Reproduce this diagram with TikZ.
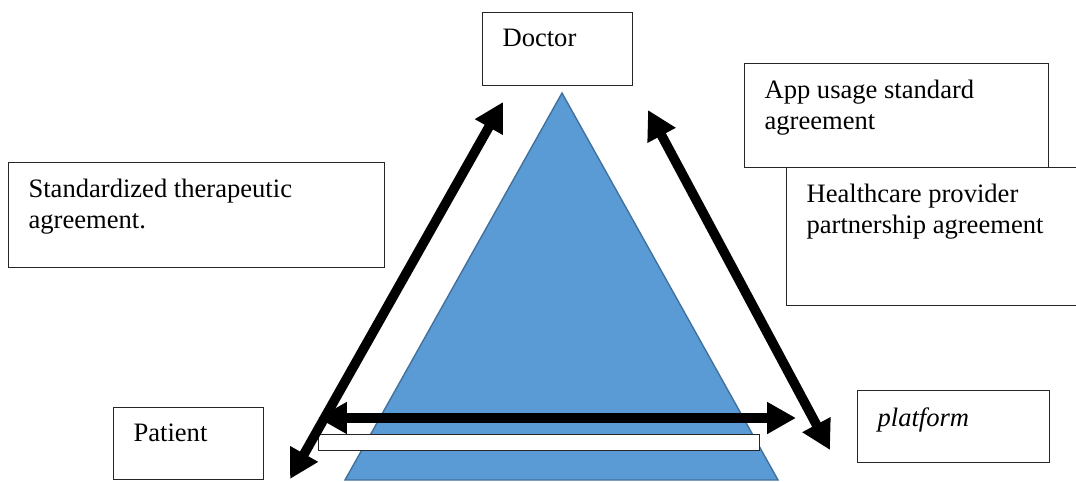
\documentclass[tikz,border=0pt]{standalone}
\usepackage{fontspec}
\setmainfont{Liberation Serif}
\usetikzlibrary{arrows.meta,positioning}
\definecolor{triblue}{HTML}{5B9BD5}
\definecolor{triedge}{HTML}{41719C}
\newcommand{\boxtxt}[3]{\parbox[c][#2][t]{#1}{\vspace*{0.12cm}\raggedright #3}}

\begin{document}
\begin{tikzpicture}[
    x=0.025cm, y=-0.025cm,
    textbox/.style={
        draw=black!85,
        fill=white,
        line width=0.8pt,
        anchor=north west,
        inner xsep=0.5cm,
        inner ysep=0.3cm,
        font=\fontsize{18.9pt}{22pt}\selectfont,
    },
    bigarrow/.style={
        {Triangle[length=0.72cm,width=0.75cm]}-{Triangle[length=0.72cm,width=0.75cm]},
        line width=0.24cm,
        color=black,
    },
]
\useasboundingbox (0,0) rectangle (1076,481);
\clip (0,0) rectangle (1076,481);

% triangle and bar
\draw[fill=triblue,draw=triedge,line width=1pt] (562,93) -- (778,480) -- (345,480) -- cycle;
\node[draw=black!85,fill=white,line width=0.8pt,anchor=north west,inner sep=0pt,
      minimum width=11.025cm,minimum height=0.4cm] (bar) at (318,434) {};

% boxes
\node[textbox] (doctor) at (482,12) {\boxtxt{2.75cm}{1.225cm}{Doctor}};
\node[textbox] (therapy) at (8,162) {\boxtxt{8.4cm}{2.025cm}{Standardized therapeutic\\ agreement.}};
\node[textbox] (appuse) at (744,63) {\boxtxt{6.6cm}{2.0cm}{App usage standard\\ agreement}};
\node[textbox] (partner) at (786,167) {\boxtxt{7.0cm}{2.85cm}{Healthcare provider\\ partnership agreement}};
\node[textbox] (patient) at (113,407) {\boxtxt{2.75cm}{1.2cm}{Patient}};
\node[textbox] (platform) at (857,390) {\boxtxt{3.8cm}{1.2cm}{\itshape platform}};

% arrow ends
\coordinate (pa) at (290,479);
\coordinate (da) at (503,102);
\coordinate (db) at (648,110);
\coordinate (pb) at (830,450);
\coordinate (ha) at (318,418);
\coordinate (hb) at (796,418);

\draw[bigarrow] (pa) -- (da);
\draw[bigarrow] (db) -- (pb);
\draw[bigarrow] (ha) -- (hb);
\end{tikzpicture}
\end{document}
